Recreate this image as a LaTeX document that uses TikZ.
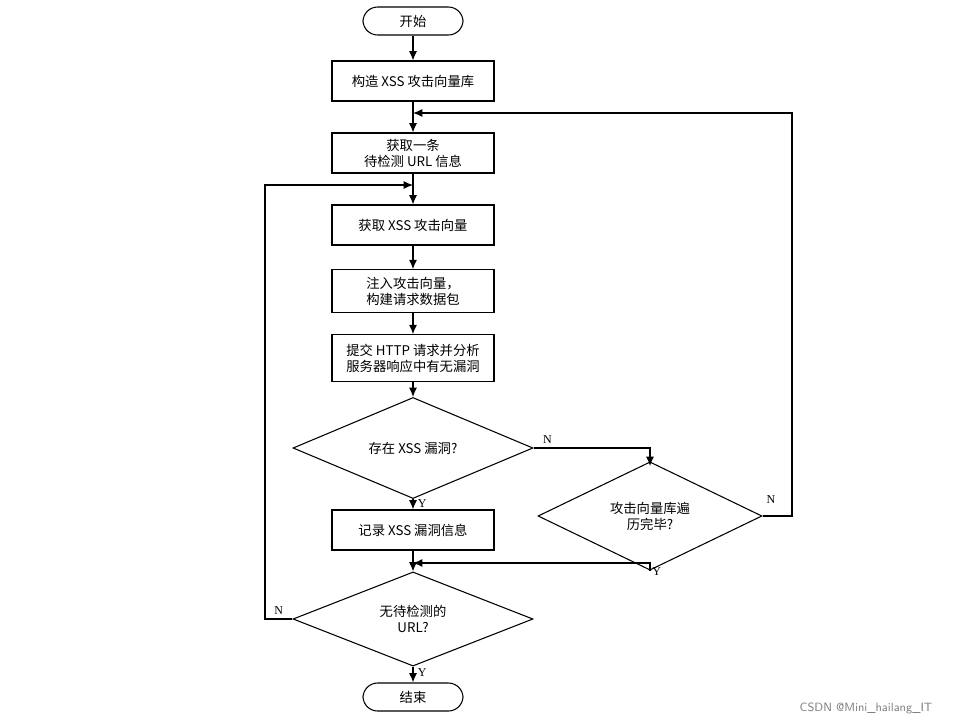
\documentclass[tikz,border=0pt]{standalone}
\usepackage{fontspec}
\setmainfont{Liberation Serif}
\newfontfamily\cjk{Noto Sans CJK SC}
\usetikzlibrary{shapes.geometric,arrows.meta}
\tikzset{
  box/.style={draw, thick, minimum width=121.5pt, minimum height=30pt, align=center, font=\cjk, inner sep=2pt},
  term/.style={draw, thick, rounded corners=11pt, minimum width=75pt, minimum height=21pt, font=\cjk},
  test/.style={draw, thick, diamond, minimum width=#1, minimum height=57pt, align=center, font=\cjk, inner sep=0pt},
  flow/.style={thick, -{Latex[length=7pt,width=6pt]}},
  lab/.style={font=\small}
}
\begin{document}
\begin{tikzpicture}[x=0.75pt,y=-0.75pt]
  \useasboundingbox (0,0) rectangle (971,725);
  % main column
  \node[term] (start) at (413,21) {开始};
  \node[box] (lib) at (413,81) {构造 XSS 攻击向量库};
  \node[box] (url) at (413,153) {获取一条\\待检测 URL 信息};
  \node[box] (vec) at (413,225) {获取 XSS 攻击向量};
  \node[box, minimum height=32pt] (pkt) at (413,291) {注入攻击向量，\\构建请求数据包};
  \node[box, minimum height=35pt] (send) at (413,358) {提交 HTTP 请求并分析\\服务器响应中有无漏洞};
  \node[test=180pt] (hasxss) at (413,448) {存在 XSS 漏洞?};
  \node[box] (rec) at (413,530) {记录 XSS 漏洞信息};
  \node[test=168pt, minimum height=58pt] (done) at (650,516) {攻击向量库遍\\历完毕?};
  \node[test=180pt] (nourl) at (413,619) {无待检测的\\URL?};
  \node[term] (stop) at (413,697) {结束};
  % helper points
  \coordinate (join) at (413,563);
  \coordinate (back) at (413,113);
  \coordinate (loop) at (413,185);
  % straight arrows
  \draw[flow] (start) -- (lib);
  \draw[flow] (lib) -- (url);
  \draw[flow] (url) -- (vec);
  \draw[flow] (vec) -- (pkt);
  \draw[flow] (pkt) -- (send);
  \draw[flow] (send) -- (hasxss);
  \draw[flow] (hasxss) -- node[lab, right, pos=0.4] {Y} (rec);
  \draw[flow] (rec) -- (nourl);
  \draw[flow] (nourl) -- node[lab, right, pos=0.4] {Y} (stop);
  % branches
  \draw[flow] (hasxss.east) -- node[lab, above, pos=0.12] {N} (650,448) -- (650,466);
  \draw[flow] (done.south) -- (650,563) node[lab, anchor=north west, xshift=-2pt] {Y} -- (join);
  \draw[flow] (done.east) -- node[lab, anchor=south east, yshift=6pt, pos=0.6] {N} (792,516) -- (792,113) -- (back);
  \draw[flow] (nourl.west) -- node[lab, above, pos=0.5] {N} (265,619) -- (265,185) -- (loop);
  \node[font=\sffamily\small, text=gray] (mark) at (866,708) {CSDN @Mini\_hailang\_IT};
\end{tikzpicture}
\end{document}
